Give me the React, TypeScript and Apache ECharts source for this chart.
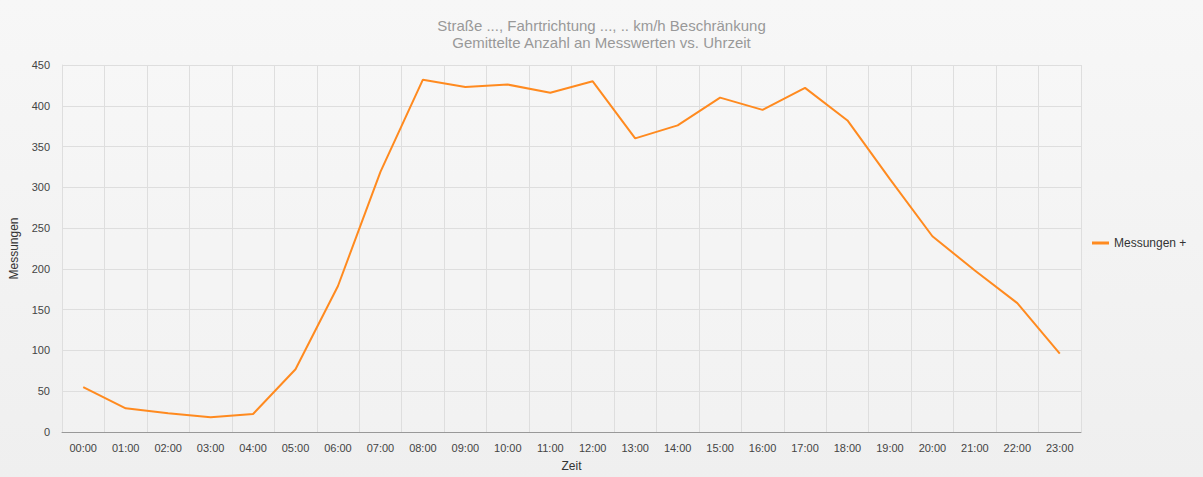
import React, { useEffect, useRef } from "react";
import * as echarts from "echarts";

const hours = ["00:00","01:00","02:00","03:00","04:00","05:00","06:00","07:00","08:00","09:00","10:00","11:00","12:00","13:00","14:00","15:00","16:00","17:00","18:00","19:00","20:00","21:00","22:00","23:00"];
const messungen = [55, 29, 23, 18, 22, 77, 179, 319, 432, 423, 426, 416, 430, 360, 376, 410, 395, 422, 382, 310, 240, 198, 158, 96];
const titleLines = ["Straße ..., Fahrtrichtung ..., .. km/h Beschränkung", "Gemittelte Anzahl an Messwerten vs. Uhrzeit"];

export default function App() {
  const ref = useRef<HTMLDivElement>(null);
  useEffect(() => {
    if (!ref.current) return;
    const chart = echarts.init(ref.current, null, { renderer: "svg" });
    chart.setOption({
      animation: false,
      backgroundColor: {
        type: "linear", x: 0, y: 0, x2: 0, y2: 1,
        colorStops: [{ offset: 0, color: "#f7f7f7" }, { offset: 1, color: "#efefef" }],
      },
      textStyle: { fontFamily: "Liberation Sans, Arial, sans-serif" },
      title: {
        text: titleLines.join("\n"),
        left: "center",
        top: 12,
        textStyle: { color: "#999", fontSize: 15, fontWeight: "normal", lineHeight: 17, fontFamily: "Liberation Sans, Arial, sans-serif" },
      },
      legend: {
        orient: "vertical",
        left: 1087,
        top: 232,
        itemWidth: 17,
        itemHeight: 3,
        itemGap: 8,
        icon: "rect",
        textStyle: { color: "#333", fontSize: 12 },
        data: ["Messungen +"],
      },
      grid: { left: 62, right: 122, top: 65, bottom: 42, show: true, backgroundColor: "rgba(255,255,255,0.15)", borderWidth: 0 },
      xAxis: {
        type: "category",
        data: hours,
        boundaryGap: true,
        name: "Zeit",
        nameLocation: "middle",
        nameGap: 28,
        nameTextStyle: { color: "#333", fontSize: 12 },
        axisLine: { lineStyle: { color: "#999" } },
        axisTick: { alignWithLabel: false, length: 5, lineStyle: { color: "#999" } },
        axisLabel: { color: "#444", fontSize: 11, margin: 10, interval: 0 },
        splitLine: { show: true, lineStyle: { color: "#dedede" } },
      },
      yAxis: {
        type: "value",
        min: 0,
        max: 450,
        interval: 50,
        name: "Messungen",
        nameLocation: "middle",
        nameGap: 42,
        nameTextStyle: { color: "#333", fontSize: 12 },
        axisLine: { show: true, lineStyle: { color: "#dedede" } },
        axisTick: { show: false },
        axisLabel: { color: "#444", fontSize: 11, margin: 12 },
        splitLine: { show: true, lineStyle: { color: "#dedede" } },
      },
      series: [
        {
          name: "Messungen +",
          type: "line",
          data: messungen,
          symbol: "none",
          lineStyle: { color: "#ff8a1f", width: 2 },
          itemStyle: { color: "#ff8a1f" },
        },
      ],
    });
    return () => chart.dispose();
  }, []);
  return <div ref={ref} style={{ width: 1203, height: 477, position: "absolute", left: 0, top: 0 }} />;
}
